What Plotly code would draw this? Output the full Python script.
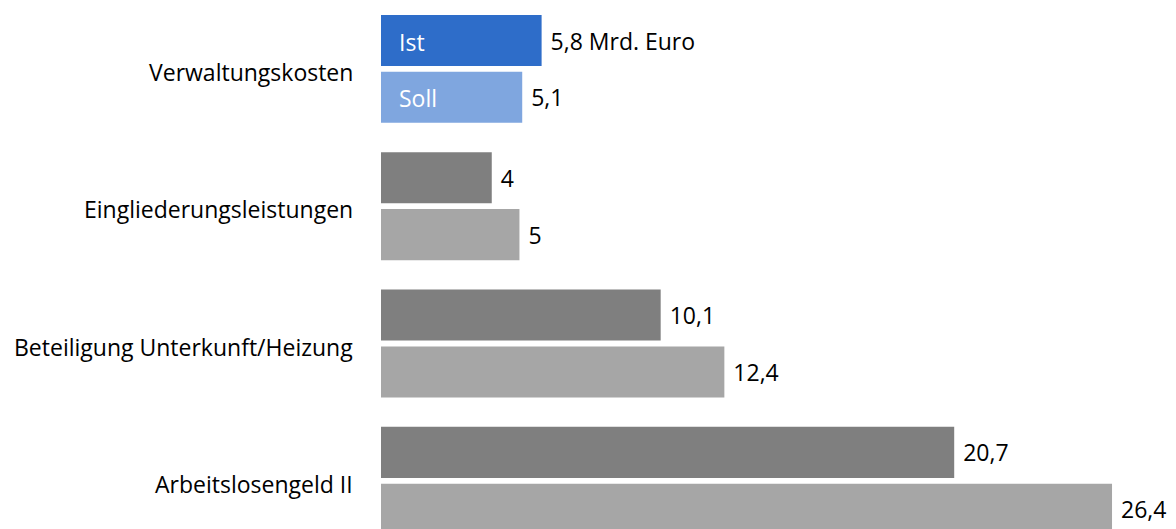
import plotly.graph_objects as go

categories = ["Verwaltungskosten", "Eingliederungsleistungen",
              "Beteiligung Unterkunft/Heizung", "Arbeitslosengeld II"]
ist_values = [5.8, 4.0, 10.1, 20.7]
soll_values = [5.1, 5.0, 12.4, 26.4]
ist_labels = ["5,8 Mrd. Euro", "4", "10,1", "20,7"]
soll_labels = ["5,1", "5", "12,4", "26,4"]
series_names = ["Ist", "Soll"]

ist_colors = ["#2E6DC9", "#7F7F7F", "#7F7F7F", "#7F7F7F"]
soll_colors = ["#7FA6DF", "#A6A6A6", "#A6A6A6", "#A6A6A6"]

FONT = "Open Sans"
FS = 23

pos = list(range(len(categories)))

fig = go.Figure()
fig.add_trace(go.Bar(
    y=pos, x=ist_values, orientation="h", name=series_names[0],
    marker=dict(color=ist_colors, line=dict(width=0)),
    text=[" " + t for t in ist_labels], textposition="outside",
    constraintext="none", cliponaxis=False,
    textfont=dict(family=FONT, size=FS, color="#000000"),
))
fig.add_trace(go.Bar(
    y=pos, x=soll_values, orientation="h", name=series_names[1],
    marker=dict(color=soll_colors, line=dict(width=0)),
    text=[" " + t for t in soll_labels], textposition="outside",
    constraintext="none", cliponaxis=False,
    textfont=dict(family=FONT, size=FS, color="#000000"),
))

# series labels inside the first group's bars
fig.add_annotation(x=0, y=pos[0] - 0.207, text=series_names[0], showarrow=False,
                   xanchor="left", xshift=16, yshift=-1,
                   font=dict(family=FONT, size=FS, color="white"))
fig.add_annotation(x=0, y=pos[0] + 0.207, text=series_names[1], showarrow=False,
                   xanchor="left", xshift=16, yshift=-1,
                   font=dict(family=FONT, size=FS, color="white"))

# category labels
for p, c in zip(pos, categories):
    fig.add_annotation(x=0, y=p, text=c, showarrow=False, xanchor="right",
                       xshift=-26, yshift=-3,
                       font=dict(family=FONT, size=FS, color="#000000"))

fig.update_layout(
    width=1176, height=529,
    margin=dict(l=381, r=0, t=0, b=0),
    paper_bgcolor="white", plot_bgcolor="white",
    barmode="group", bargap=0.172, bargroupgap=0.102,
    showlegend=False,
    font=dict(family=FONT, size=FS, color="#000000"),
    xaxis=dict(range=[0, 28.71], visible=False, fixedrange=True),
    yaxis=dict(range=[3.351, -0.502], showticklabels=False,
               showgrid=False, zeroline=False, showline=False, fixedrange=True),
)

fig.write_html("out.html")
